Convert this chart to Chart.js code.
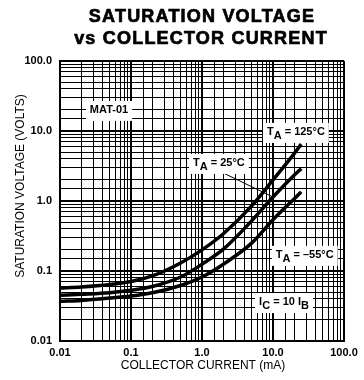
<!DOCTYPE html>
<html>
<head>
<meta charset="utf-8">
<script src="https://cdn.jsdelivr.net/npm/chart.js@4.4.0/dist/chart.umd.min.js"></script>
<style>
  html, body { margin: 0; padding: 0; background: #fff; }
</style>
</head>
<body>
<canvas id="myChart" width="364" height="380"></canvas>
<script>
// collector current (mA) and saturation voltage (V)
const currentMA = [0.01, 0.02, 0.05, 0.1, 0.2, 0.5, 1, 2, 5, 10, 20, 25];
const vsat125 = [0.057, 0.059, 0.064, 0.071, 0.085, 0.13, 0.20, 0.34, 0.85, 2.0, 4.8, 6.5];
const vsat25 = [0.045, 0.0465, 0.049, 0.053, 0.060, 0.082, 0.125, 0.205, 0.52, 1.14, 2.35, 2.9];
const vsatM55 = [0.037, 0.038, 0.041, 0.044, 0.049, 0.062, 0.082, 0.125, 0.25, 0.54, 1.08, 1.35];

const decades = [0.01, 0.1, 1, 10, 100];
const xTickLabels = ['0.01', '0.1', '1.0', '10.0', '100.0'];
const yTickLabels = ['0.01', '0.1', '1.0', '10.0', '100.0'];

// annotation texts, anchored in data units (current mA, voltage V)
const noteParts = [
    [['MAT-01', false]],
    [['T', false], ['A', true], [' = 125°C', false]],
    [['T', false], ['A', true], [' = 25°C', false]],
    [['T', false], ['A', true], [' = \u201355°C', false]],
    [['I', false], ['C', true], [' = 10 I', false], ['B', true]]
];
const noteAt = [[0.049, 20], [21, 9.7], [1.73, 3.5], [28, 0.17], [14.3, 0.036]];
const leader25 = [[1.43, 2.96], [10, 1.14]];

const FONT = '"Liberation Sans", Arial, sans-serif';

function isDecade(v) {
    const l = Math.log10(v);
    return Math.abs(l - Math.round(l)) < 1e-6;
}

function decadeLabel(labels) {
    return function (value) {
        for (let i = 0; i < decades.length; i++) {
            if (Math.abs(value - decades[i]) < decades[i] * 1e-6) return labels[i];
        }
        return '';
    };
}

function gridWidth(ctx) {
    if (!ctx.tick) return 1;
    return isDecade(ctx.tick.value) ? 2 : 1;
}

function drawParts(ctx, parts, cx, cy) {
    ctx.font = 'bold 11px ' + FONT;
    let w = 0;
    parts.forEach(p => { w += ctx.measureText(p[0]).width; });
    const left = cx - w / 2;
    ctx.fillStyle = '#fff';
    ctx.fillRect(left - 4, cy - 9, w + 8, 20);
    ctx.fillStyle = '#000';
    ctx.textBaseline = 'middle';
    ctx.textAlign = 'left';
    let x = left;
    parts.forEach(p => {
        ctx.fillText(p[0], x, p[1] ? cy + 4 : cy);
        x += ctx.measureText(p[0]).width;
    });
}

const textPlugin = {
    id: 'texts',
    afterDatasetsDraw(chart) {
        const { ctx, scales } = chart;
        const xs = scales.x, ys = scales.y;
        ctx.save();

        // leader line for the 25°C label
        ctx.strokeStyle = '#000';
        ctx.lineWidth = 1;
        ctx.beginPath();
        ctx.moveTo(xs.getPixelForValue(leader25[0][0]), ys.getPixelForValue(leader25[0][1]));
        ctx.lineTo(xs.getPixelForValue(leader25[1][0]), ys.getPixelForValue(leader25[1][1]));
        ctx.stroke();

        noteParts.forEach((parts, i) => {
            drawParts(ctx, parts, xs.getPixelForValue(noteAt[i][0]), ys.getPixelForValue(noteAt[i][1]));
        });
        ctx.restore();
    },
    afterDraw(chart) {
        const { ctx } = chart;
        ctx.save();
        ctx.fillStyle = '#000';
        ctx.strokeStyle = '#000';
        ctx.textAlign = 'center';
        ctx.textBaseline = 'middle';

        // heavy title
        ctx.font = 'bold 18px ' + FONT;
        ctx.letterSpacing = '1.2px';
        ctx.lineWidth = 0.7;
        ctx.fillText('SATURATION VOLTAGE', 202, 17);
        ctx.strokeText('SATURATION VOLTAGE', 202, 17);
        ctx.fillText('vs COLLECTOR CURRENT', 201, 39);
        ctx.strokeText('vs COLLECTOR CURRENT', 201, 39);
        ctx.letterSpacing = '0px';

        ctx.font = '12px ' + FONT;
        ctx.fillText('COLLECTOR CURRENT (mA)', 203, 366);

        ctx.translate(21, 186);
        ctx.rotate(-Math.PI / 2);
        ctx.fillText('SATURATION VOLTAGE (VOLTS)', 0, 0);
        ctx.restore();
    }
};

const ctx = document.getElementById('myChart').getContext('2d');
const line = (data) => ({
    data: data,
    borderColor: '#000',
    borderWidth: 3.5,
    pointRadius: 0,
    fill: false,
    cubicInterpolationMode: 'monotone'
});

const chart = new Chart(ctx, {
    type: 'line',
    data: {
        labels: currentMA,
        datasets: [line(vsat125), line(vsat25), line(vsatM55)]
    },
    options: {
        responsive: false,
        animation: false,
        layout: { padding: { top: 61, right: 20, left: 0, bottom: 0 } },
        plugins: {
            legend: { display: false },
            tooltip: { enabled: false }
        },
        scales: {
            x: {
                type: 'logarithmic',
                min: 0.01,
                max: 100,
                afterFit: s => { s.height = 39; },
                grid: { color: '#000', lineWidth: gridWidth, drawTicks: false },
                border: { color: '#000', width: 2 },
                ticks: {
                    autoSkip: false,
                    maxRotation: 0,
                    padding: 5,
                    color: '#000',
                    font: { family: FONT, size: 11, weight: 'bold' },
                    callback: decadeLabel(xTickLabels)
                }
            },
            y: {
                type: 'logarithmic',
                min: 0.01,
                max: 100,
                afterFit: s => { s.width = 60; },
                grid: { color: '#000', lineWidth: gridWidth, drawTicks: false },
                border: { color: '#000', width: 2 },
                ticks: {
                    autoSkip: false,
                    padding: 8,
                    color: '#000',
                    font: { family: FONT, size: 11, weight: 'bold' },
                    callback: decadeLabel(yTickLabels)
                }
            }
        }
    },
    plugins: [textPlugin]
});
</script>
</body>
</html>
